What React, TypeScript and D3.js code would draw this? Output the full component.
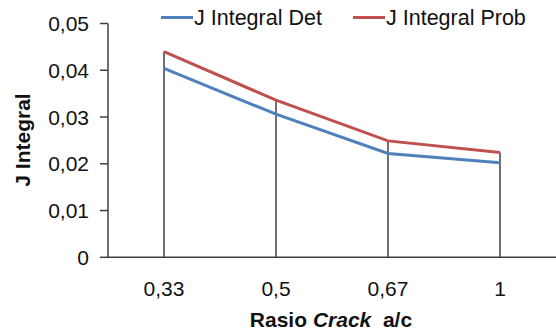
import React, { useEffect, useRef } from 'react';
import * as d3 from 'd3';

const categories = ['0,33', '0,5', '0,67', '1'];
const detValues = [0.0404, 0.0306, 0.0222, 0.0202];
const probValues = [0.044, 0.0336, 0.0249, 0.0224];
const yTicks = [0, 0.01, 0.02, 0.03, 0.04, 0.05];

const fmt = (v: number) => (v === 0 ? '0' : v.toFixed(2).replace('.', ','));

const App = () => {
    const svgRef = useRef<SVGSVGElement>(null);

    useEffect(() => {
        const svg = d3.select(svgRef.current);
        svg.selectAll('*').remove();

        const width = 556;
        const height = 336;
        const font = '"Liberation Sans", Arial, sans-serif';

        const x = d3.scaleBand<string>().domain(categories).range([108, 556]).padding(0);
        const y = d3.scaleLinear().domain([0, 0.05]).range([257.3, 23.5]);
        const cx = (c: string) => (x(c) ?? 0) + x.bandwidth() / 2;

        svg.attr('width', width).attr('height', height);

        // drop lines
        svg.append('g')
            .selectAll('line')
            .data(categories)
            .enter()
            .append('line')
            .attr('x1', (d) => cx(d))
            .attr('x2', (d) => cx(d))
            .attr('y1', (d, i) => y(Math.max(detValues[i], probValues[i])))
            .attr('y2', y(0))
            .attr('stroke', '#404040')
            .attr('stroke-width', 1.5);

        // y axis
        const yAxis = svg.append('g');
        yAxis.append('line')
            .attr('x1', 108).attr('x2', 108)
            .attr('y1', y(0.05)).attr('y2', y(0))
            .attr('stroke', '#404040').attr('stroke-width', 1.5);
        yAxis.selectAll('.tick')
            .data(yTicks)
            .enter()
            .append('line')
            .attr('x1', 100).attr('x2', 108)
            .attr('y1', (d) => y(d)).attr('y2', (d) => y(d))
            .attr('stroke', '#404040').attr('stroke-width', 1.5);
        yAxis.selectAll('text')
            .data(yTicks)
            .enter()
            .append('text')
            .attr('x', 89)
            .attr('y', (d) => y(d))
            .attr('dy', '0.36em')
            .attr('text-anchor', 'end')
            .style('font-family', font)
            .style('font-size', '21px')
            .attr('fill', '#111')
            .text((d) => fmt(d));

        // x axis
        svg.append('line')
            .attr('x1', 108).attr('x2', 556)
            .attr('y1', y(0)).attr('y2', y(0))
            .attr('stroke', '#404040').attr('stroke-width', 1.5);
        svg.append('g')
            .selectAll('text')
            .data(categories)
            .enter()
            .append('text')
            .attr('x', (d) => cx(d))
            .attr('y', 296)
            .attr('text-anchor', 'middle')
            .style('font-family', font)
            .style('font-size', '21px')
            .attr('fill', '#111')
            .text((d) => d);

        // series
        const line = d3.line<number>()
            .x((d, i) => cx(categories[i]))
            .y((d) => y(d));
        svg.append('path')
            .attr('d', line(detValues))
            .attr('fill', 'none')
            .attr('stroke', '#4F81BD')
            .attr('stroke-width', 3);
        svg.append('path')
            .attr('d', line(probValues))
            .attr('fill', 'none')
            .attr('stroke', '#C0504D')
            .attr('stroke-width', 3);

        // axis titles
        svg.append('text')
            .attr('transform', 'translate(30,140) rotate(-90)')
            .attr('text-anchor', 'middle')
            .style('font-family', font)
            .style('font-size', '21px')
            .style('font-weight', 'bold')
            .attr('fill', '#111')
            .text('J Integral');

        const xt = svg.append('text')
            .attr('x', 331)
            .attr('y', 327)
            .attr('text-anchor', 'middle')
            .style('font-family', font)
            .style('font-size', '21px')
            .style('font-weight', 'bold')
            .attr('fill', '#111');
        xt.append('tspan').text('Rasio ');
        xt.append('tspan').style('font-style', 'italic').text('Crack');
        xt.append('tspan').text('\u00a0\u00a0a/c');

        // legend
        const legend = [
            { name: 'J Integral Det', color: '#4F81BD', x: 161 },
            { name: 'J Integral Prob', color: '#C0504D', x: 353 },
        ];
        const lg = svg.append('g')
            .selectAll('g')
            .data(legend)
            .enter()
            .append('g');
        lg.append('line')
            .attr('x1', (d) => d.x).attr('x2', (d) => d.x + 32)
            .attr('y1', 17.5).attr('y2', 17.5)
            .attr('stroke', (d) => d.color)
            .attr('stroke-width', 3);
        lg.append('text')
            .attr('x', (d) => d.x + 33)
            .attr('y', 25)
            .style('font-family', font)
            .style('font-size', '21.5px')
            .attr('fill', '#111')
            .text((d) => d.name);
    }, []);

    return (
        <svg ref={svgRef} style={{ position: 'absolute', left: 0, top: 0 }} />
    );
};

export default App;
